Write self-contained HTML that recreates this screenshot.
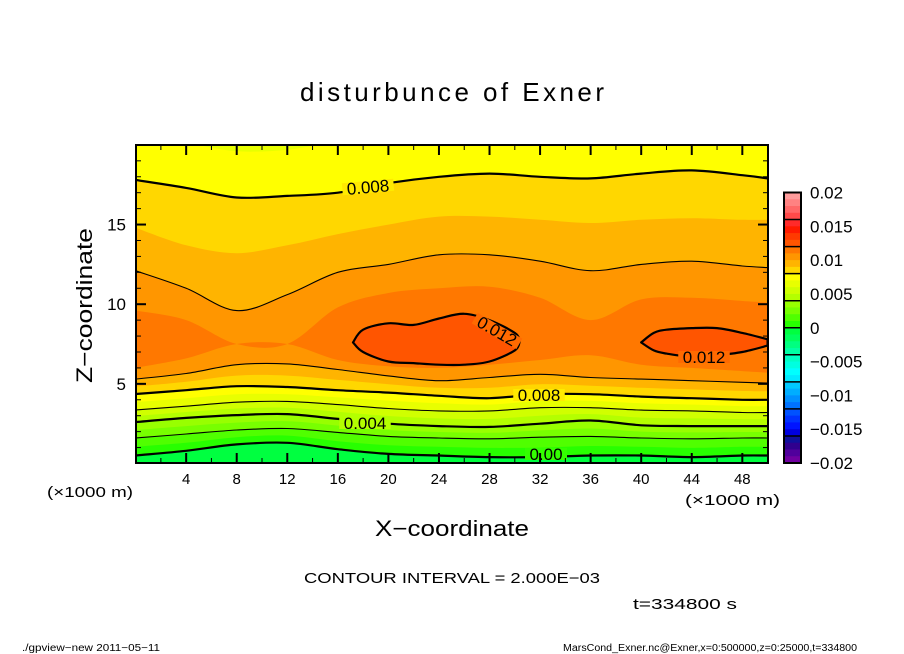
<!DOCTYPE html>
<html><head><meta charset="utf-8"><style>
html,body{margin:0;padding:0;background:#fff;}
svg{display:block;font-family:"Liberation Sans",sans-serif;}
</style></head><body>
<svg id="chart" width="904" height="654" viewBox="0 0 904 654" xmlns="http://www.w3.org/2000/svg">
<defs><clipPath id="pc"><rect x="136" y="145" width="632" height="318"/></clipPath></defs>
<text x="300" y="101" font-size="26" textLength="304" lengthAdjust="spacing">disturbunce of Exner</text>
<g id="plot" clip-path="url(#pc)"></g>
<g id="lines" clip-path="url(#pc)"></g>
<g id="labels"></g>
<rect x="136" y="145" width="632" height="318" fill="none" stroke="#000" stroke-width="2"/>
<g id="axes"></g>
<text x="47" y="497" font-size="15" textLength="86" lengthAdjust="spacingAndGlyphs">(×1000 m)</text>
<text x="685" y="505" font-size="15" textLength="95" lengthAdjust="spacingAndGlyphs">(×1000 m)</text>
<text x="375" y="536" font-size="22" textLength="154" lengthAdjust="spacingAndGlyphs">X−coordinate</text>
<text transform="translate(92,383) rotate(-90)" font-size="22" textLength="155" lengthAdjust="spacingAndGlyphs">Z−coordinate</text>
<text x="304" y="583" font-size="15" textLength="296" lengthAdjust="spacingAndGlyphs">CONTOUR INTERVAL = 2.000E−03</text>
<text x="633" y="609" font-size="15" textLength="104" lengthAdjust="spacingAndGlyphs">t=334800 s</text>
<text x="22" y="651" font-size="10" textLength="138" lengthAdjust="spacingAndGlyphs">./gpview−new   2011−05−11</text>
<text x="563" y="651" font-size="10" textLength="294" lengthAdjust="spacingAndGlyphs">MarsCond_Exner.nc@Exner,x=0:500000,z=0:25000,t=334800</text>
<g id="cbar"></g>
</svg>
<script>
const xGrid=[0,4,8,12,16,20,24,28,32,36,40,44,48,50];
const lower0=[0.5,0.8,1.2,1.3,0.9,0.6,0.5,0.4,0.4,0.5,0.5,0.4,0.5,0.5];
const lower1=[1.05,1.3,1.65,1.75,1.4,1.15,1.05,0.98,1.0,1.1,1.05,0.98,1.05,1.05];
const lower2=[1.6,1.85,2.1,2.2,1.95,1.7,1.6,1.55,1.65,1.7,1.6,1.55,1.6,1.6];
const lower3=[2.1,2.35,2.57,2.65,2.38,2.1,1.98,1.93,2.08,2.2,2.0,1.95,1.98,1.98];
const lower4=[2.6,2.86,3.04,3.1,2.8,2.5,2.35,2.3,2.5,2.7,2.4,2.35,2.35,2.35];
const lower5=[2.98,3.23,3.45,3.5,3.25,2.98,2.83,2.8,3.0,3.1,2.88,2.83,2.78,2.78];
const lower6=[3.36,3.6,3.85,3.9,3.7,3.45,3.3,3.3,3.5,3.5,3.35,3.3,3.2,3.2];
const lower7=[3.86,4.1,4.35,4.35,4.15,3.95,3.78,3.7,3.93,3.93,3.78,3.7,3.6,3.6];
const lower8=[4.36,4.6,4.85,4.8,4.6,4.45,4.25,4.1,4.35,4.35,4.2,4.1,4.0,4.0];
const lower9=[4.83,5.13,5.52,5.52,5.25,4.98,4.75,4.75,4.98,4.88,4.75,4.65,4.55,4.53];
const lower10=[5.3,5.65,6.2,6.25,5.9,5.5,5.2,5.4,5.6,5.4,5.3,5.2,5.1,5.05];
const lower11=[6.0,6.6,7.5,7.5,6.5,6.1,6.0,6.2,6.5,6.8,6.2,6.0,5.8,5.7];
const upper11=[9.6,9.0,7.5,7.5,9.8,10.7,11.0,11.1,10.4,9.0,10.3,10.4,10.2,10.1];
const upper10=[12.1,11.0,9.6,10.6,12.0,12.5,13.1,13.1,12.7,12.1,12.5,12.7,12.4,12.3];
const upper9=[14.8,13.7,13.2,13.7,14.4,15.0,15.5,15.5,15.3,15.1,15.3,15.4,15.3,15.3];
const upper8=[17.8,17.3,16.7,16.8,17.0,17.6,18.0,18.2,18.0,17.9,18.2,18.4,18.1,17.9];
const upper7=[20.3,20.1,19.6,19.7,20.2,20.4,20.4,20.4,20.4,20.4,20.4,20.4,20.4,20.4];
const blob1X=[17.2,18,20,22,24,26,28,30,30.4];
const blob1Lo=[7.6,7.0,6.4,6.3,6.2,6.2,6.4,7.1,7.7];
const blob1Hi=[7.6,8.4,8.8,8.7,9.1,9.4,9.0,8.2,7.7];
const blob2X=[40,41,42,44,46,48,50];
const blob2Lo=[7.6,7.1,6.9,6.7,6.8,7.0,7.4];
const blob2Hi=[7.6,8.2,8.4,8.5,8.5,8.2,7.8];
const xTicks=[4,8,12,16,20,24,28,32,36,40,44,48];
const yTicks=[5,10,15];
const cbarTicks=[0.02,0.015,0.01,0.005,0,-0.005,-0.01,-0.015,-0.02];
const cbarLabels=["0.02","0.015","0.01","0.005","0","−0.005","−0.01","−0.015","−0.02"];
const palette=["#ff9c9c","#ff8282","#ff6868","#ff4a4a","#ff2a2a","#ff1a00","#ff3a00","#ff5500","#ff7800","#ff9600","#ffb400","#ffd700","#ffff00","#e8ff00","#d0ff00","#b4ff00","#98ff00","#78ff00","#50ff00","#28ff00","#00ff40","#00ff5c","#00ff80","#00ffa4","#00ffc4","#00ffe0","#00ffff","#00eaff","#00c8ff","#00aeff","#0090ff","#0072ff","#0052ff","#0032ff","#0014ff","#0000e0","#10109c","#30008e","#50009c","#7000a0"];

const NS="http://www.w3.org/2000/svg";
const X0=135.6,XS=12.64,Y0=463.5,YS=15.93;
function sx(x){return X0+XS*x;}
function sy(z){return Y0-YS*z;}
function bandColor(k){return palette[19-k];}
function mk(tag,attrs,parent){const e=document.createElementNS(NS,tag);for(const k in attrs)e.setAttribute(k,attrs[k]);parent.appendChild(e);return e;}
function toPts(xs,zs){return xs.map((x,i)=>[sx(x),sy(zs[i])]);}
function cr(p){let s="";for(let i=0;i<p.length-1;i++){const a=p[i-1]||p[i],b=p[i],c=p[i+1],d=p[i+2]||c;
const c1=[b[0]+(c[0]-a[0])/6,b[1]+(c[1]-a[1])/6],c2=[c[0]-(d[0]-b[0])/6,c[1]-(d[1]-b[1])/6];
s+=` C${c1[0].toFixed(1)},${c1[1].toFixed(1)} ${c2[0].toFixed(1)},${c2[1].toFixed(1)} ${c[0].toFixed(1)},${c[1].toFixed(1)}`;}return s;}
function bandPath(xs,lo,hi){const a=toPts(xs,lo),b=toPts(xs,hi).reverse();
return `M${a[0][0]},${a[0][1]}`+cr(a)+` L${b[0][0]},${b[0][1]}`+cr(b)+" Z";}
function linePath(xs,zs){const a=toPts(xs,zs);return `M${a[0][0]},${a[0][1]}`+cr(a);}

const plotG=document.getElementById("plot");
const bgRect=mk("rect",{x:136,y:145,width:632,height:318,fill:bandColor(-1)},plotG);


const topLevel=xGrid.map(()=>21);
const lowers=[lower0,lower1,lower2,lower3,lower4,lower5,lower6,lower7,lower8,lower9,lower10,lower11];
const uppers=[topLevel,topLevel,topLevel,topLevel,topLevel,topLevel,topLevel,upper7,upper8,upper9,upper10,upper11];
for(let k=0;k<12;k++){
  const p=mk("path",{d:bandPath(xGrid,lowers[k],uppers[k]),fill:bandColor(k)},plotG);
  
  
}
[[blob1X,blob1Lo,blob1Hi],[blob2X,blob2Lo,blob2Hi]].forEach((b,i)=>{
  const p=mk("path",{d:bandPath(b[0],b[1],b[2]),fill:bandColor(12)},plotG);
  
  
});
const linesG=document.getElementById("lines");
const lineDefs=[[lower0,2.2,'contour-0.000'],[lower2,1.1,'contour-0.002'],[lower4,2.2,'contour-0.004'],[lower6,1.1,'contour-0.006'],[lower8,2.2,'contour-0.008-lower'],[lower10,1.1,'contour-0.010-lower'],[upper8,2.2,'contour-0.008-upper'],[upper10,1.1,'contour-0.010-upper']];
lineDefs.forEach(l=>{
  const p=mk("path",{d:linePath(xGrid,l[0]),fill:"none",stroke:"#000","stroke-width":l[1]},linesG);
  
  
});
[[blob1X,blob1Lo,blob1Hi],[blob2X,blob2Lo,blob2Hi]].forEach((b,i)=>{
  const p=mk("path",{d:bandPath(b[0],b[1],b[2]),fill:"none",stroke:"#000","stroke-width":2.2},linesG);
  
  
});
const labs=document.getElementById("labels");
[["0.008",368,187,-5,"#ffea00"],["0.004",365,423,0,"#b4ff00"],["0.008",539,395,0,"#ffeb00"],["0.00",546,454,0,"#34ff00"],["0.012",497,331,30,"#ff6a00"],["0.012",704,357,0,"#ff6a00"]].forEach((l,i)=>{
  const g=mk("g",{transform:`translate(${l[1]},${l[2]}) rotate(${l[3]})`},labs);
  
  
  const w=l[0].length*9.5;
  mk("rect",{x:-w/2-2,y:-6,width:w+4,height:12,fill:l[4]},g);
  const t=mk("text",{x:0,y:6,"text-anchor":"middle","font-size":17},g);t.textContent=l[0];
});
const axesG=document.getElementById("axes");
for(let x=2;x<50;x+=2){const maj=x%4===0,L=maj?10:5;
  mk("line",{x1:sx(x),x2:sx(x),y1:463,y2:463-L,stroke:"#000","stroke-width":maj?2:1},axesG);
  mk("line",{x1:sx(x),x2:sx(x),y1:145,y2:145+L,stroke:"#000","stroke-width":maj?2:1},axesG);}
for(let z=1;z<20;z++){const maj=z%5===0,L=maj?10:5;
  mk("line",{x1:136,x2:136+L,y1:sy(z),y2:sy(z),stroke:"#000","stroke-width":maj?2:1},axesG);
  mk("line",{x1:768,x2:768-L,y1:sy(z),y2:sy(z),stroke:"#000","stroke-width":maj?2:1},axesG);}
xTicks.forEach(v=>{const t=mk("text",{x:sx(v),y:484,"text-anchor":"middle","font-size":15},axesG);t.textContent=v;
  
  });
yTicks.forEach(v=>{const t=mk("text",{x:126,y:sy(v)+6,"text-anchor":"end","font-size":17},axesG);t.textContent=v;
  
  });
const cb=document.getElementById("cbar");
const CB0=192.5,CBH=270.5;
function cy(v){return CB0+(0.02-v)/0.04*CBH;}
palette.forEach((c,i)=>{const v=0.02-i*0.001;
  const r=mk("rect",{x:784,y:cy(v),width:17,height:CBH/40+0.5,fill:c},cb);
  
  });
for(let i=1;i<10;i++)mk("line",{x1:784,x2:801,y1:cy(0.02-i*0.004),y2:cy(0.02-i*0.004),stroke:"#000","stroke-width":1.5},cb);
mk("rect",{x:784,y:CB0,width:17,height:CBH,fill:"none",stroke:"#000","stroke-width":2},cb);
cbarTicks.forEach((v,i)=>{const t=mk("text",{x:810,y:cy(v)+6,"font-size":17},cb);t.textContent=cbarLabels[i];
  
  });
</script>
</body></html>
